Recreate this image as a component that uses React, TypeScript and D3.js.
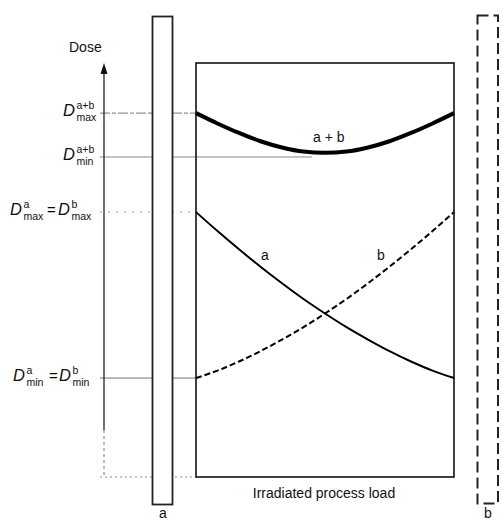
import React from "react";
import * as d3 from "d3";

// depth through the process load, 0 = side facing source a
const depth = d3.range(13).map((k) => k / 12);
// dose values (arbitrary units, 0..100)
const doseA = [64.0, 59.4, 55.0, 50.8, 46.8, 43.0, 39.5, 36.2, 33.2, 30.4, 27.9, 25.7, 23.9];
const doseB = [23.9, 25.7, 27.9, 30.4, 33.2, 36.2, 39.5, 43.0, 46.8, 50.8, 55.0, 59.4, 64.0];
const doseAB = [87.9, 85.4, 83.1, 81.1, 79.6, 78.6, 78.3, 78.6, 79.6, 81.1, 83.1, 85.4, 87.9];

// reference dose levels on the axis
const levels = [
  { key: "abmax", value: 87.9 },
  { key: "abmin", value: 77.3 },
  { key: "max", value: 64.0 },
  { key: "min", value: 23.9 },
  { key: "zero", value: 0 },
];

const W = 502;
const H = 522;
const font = "'Liberation Sans', Arial, Helvetica, sans-serif";

const x = d3.scaleLinear().domain([0, 1]).range([196, 454]);
const y = d3.scaleLinear().domain([0, 100]).range([477, 63]);

const line = (vals: number[]) =>
  d3
    .line<number>()
    .x((_d, i) => x(depth[i]))
    .y((d) => y(d))
    .curve(d3.curveMonotoneX)(vals) || "";

const guideStyle: Record<string, { dash?: string; color: string; x2?: number }> = {
  abmax: { dash: "10,2,4,2", color: "#777" },
  abmin: { color: "#888", x2: 312 },
  max: { dash: "2,6", color: "#999" },
  min: { color: "#777" },
  zero: { dash: "2,3", color: "#888" },
};

// D with stacked super/subscript
function DTerm({ xD, yL, sup, sub }: { xD: number; yL: number; sup: string; sub: string }) {
  return (
    <g fontFamily={font} fill="#111">
      <text x={xD} y={yL + 3} fontSize={16.5} fontStyle="italic">
        D
      </text>
      <text x={xD + 13.5} y={yL - 4} fontSize={10.5}>
        {sup}
      </text>
      <text x={xD + 13.5} y={yL + 8} fontSize={10.5}>
        {sub}
      </text>
    </g>
  );
}

export default function App() {
  const yv = (k: string) => y(levels.find((l) => l.key === k)!.value);
  const axisX = 104;
  const axisTop = 63;
  return (
    <svg
      width={W}
      height={H}
      style={{ position: "absolute", left: 0, top: 0, background: "#fff" }}
    >
      <rect width={W} height={H} fill="#fff" />

      {/* guide lines */}
      {levels.map((l) => {
        const s = guideStyle[l.key];
        return (
          <line
            key={l.key}
            x1={100}
            x2={s.x2 ?? x(0)}
            y1={y(l.value)}
            y2={y(l.value)}
            stroke={s.color}
            strokeWidth={1}
            strokeDasharray={s.dash}
          />
        );
      })}

      {/* dose axis */}
      <line x1={axisX} x2={axisX} y1={axisTop + 8} y2={430} stroke="#111" strokeWidth={1.2} />
      <line x1={axisX} x2={axisX} y1={430} y2={y(0)} stroke="#777" strokeWidth={1} strokeDasharray="3,3" />
      <path
        d={`M${axisX},${axisTop} L${axisX - 3.5},${axisTop + 11} L${axisX + 3.5},${axisTop + 11} Z`}
        fill="#111"
      />
      <text x={69} y={52} fontSize={14} fontFamily={font} fill="#111">
        Dose
      </text>

      {/* source a */}
      <rect x={152.5} y={16.5} width={20} height={488} fill="#fff" stroke="#222" strokeWidth={1.8} />
      {/* source b (dashed) */}
      <rect
        x={477.5}
        y={15.5}
        width={20.5}
        height={488}
        fill="none"
        stroke="#222"
        strokeWidth={2}
        strokeDasharray="11,5"
      />

      {/* process load */}
      <rect
        x={x(0)}
        y={y(100)}
        width={x(1) - x(0)}
        height={y(0) - y(100)}
        fill="none"
        stroke="#111"
        strokeWidth={1.6}
      />

      {/* dose curves */}
      <path d={line(doseAB)} fill="none" stroke="#000" strokeWidth={4} />
      <path d={line(doseA)} fill="none" stroke="#000" strokeWidth={2} />
      <path d={line(doseB)} fill="none" stroke="#000" strokeWidth={2} strokeDasharray="6,3" />

      <g fontFamily={font} fontSize={14} fill="#111">
        <text x={313} y={142}>a + b</text>
        <text x={261} y={260}>a</text>
        <text x={377} y={260}>b</text>
        <text x={324} y={498} textAnchor="middle">
          Irradiated process load
        </text>
        <text x={163} y={518} textAnchor="middle">a</text>
        <text x={488} y={518} textAnchor="middle">b</text>
      </g>

      {/* axis labels */}
      <DTerm xD={63} yL={yv("abmax")} sup="a+b" sub="max" />
      <DTerm xD={63} yL={yv("abmin")} sup="a+b" sub="min" />

      <DTerm xD={10} yL={yv("max")} sup="a" sub="max" />
      <text x={47} y={yv("max") + 3} fontSize={15} fontFamily={font}>=</text>
      <DTerm xD={58} yL={yv("max")} sup="b" sub="max" />

      <DTerm xD={13} yL={yv("min")} sup="a" sub="min" />
      <text x={49} y={yv("min") + 3} fontSize={15} fontFamily={font}>=</text>
      <DTerm xD={59} yL={yv("min")} sup="b" sub="min" />
    </svg>
  );
}
